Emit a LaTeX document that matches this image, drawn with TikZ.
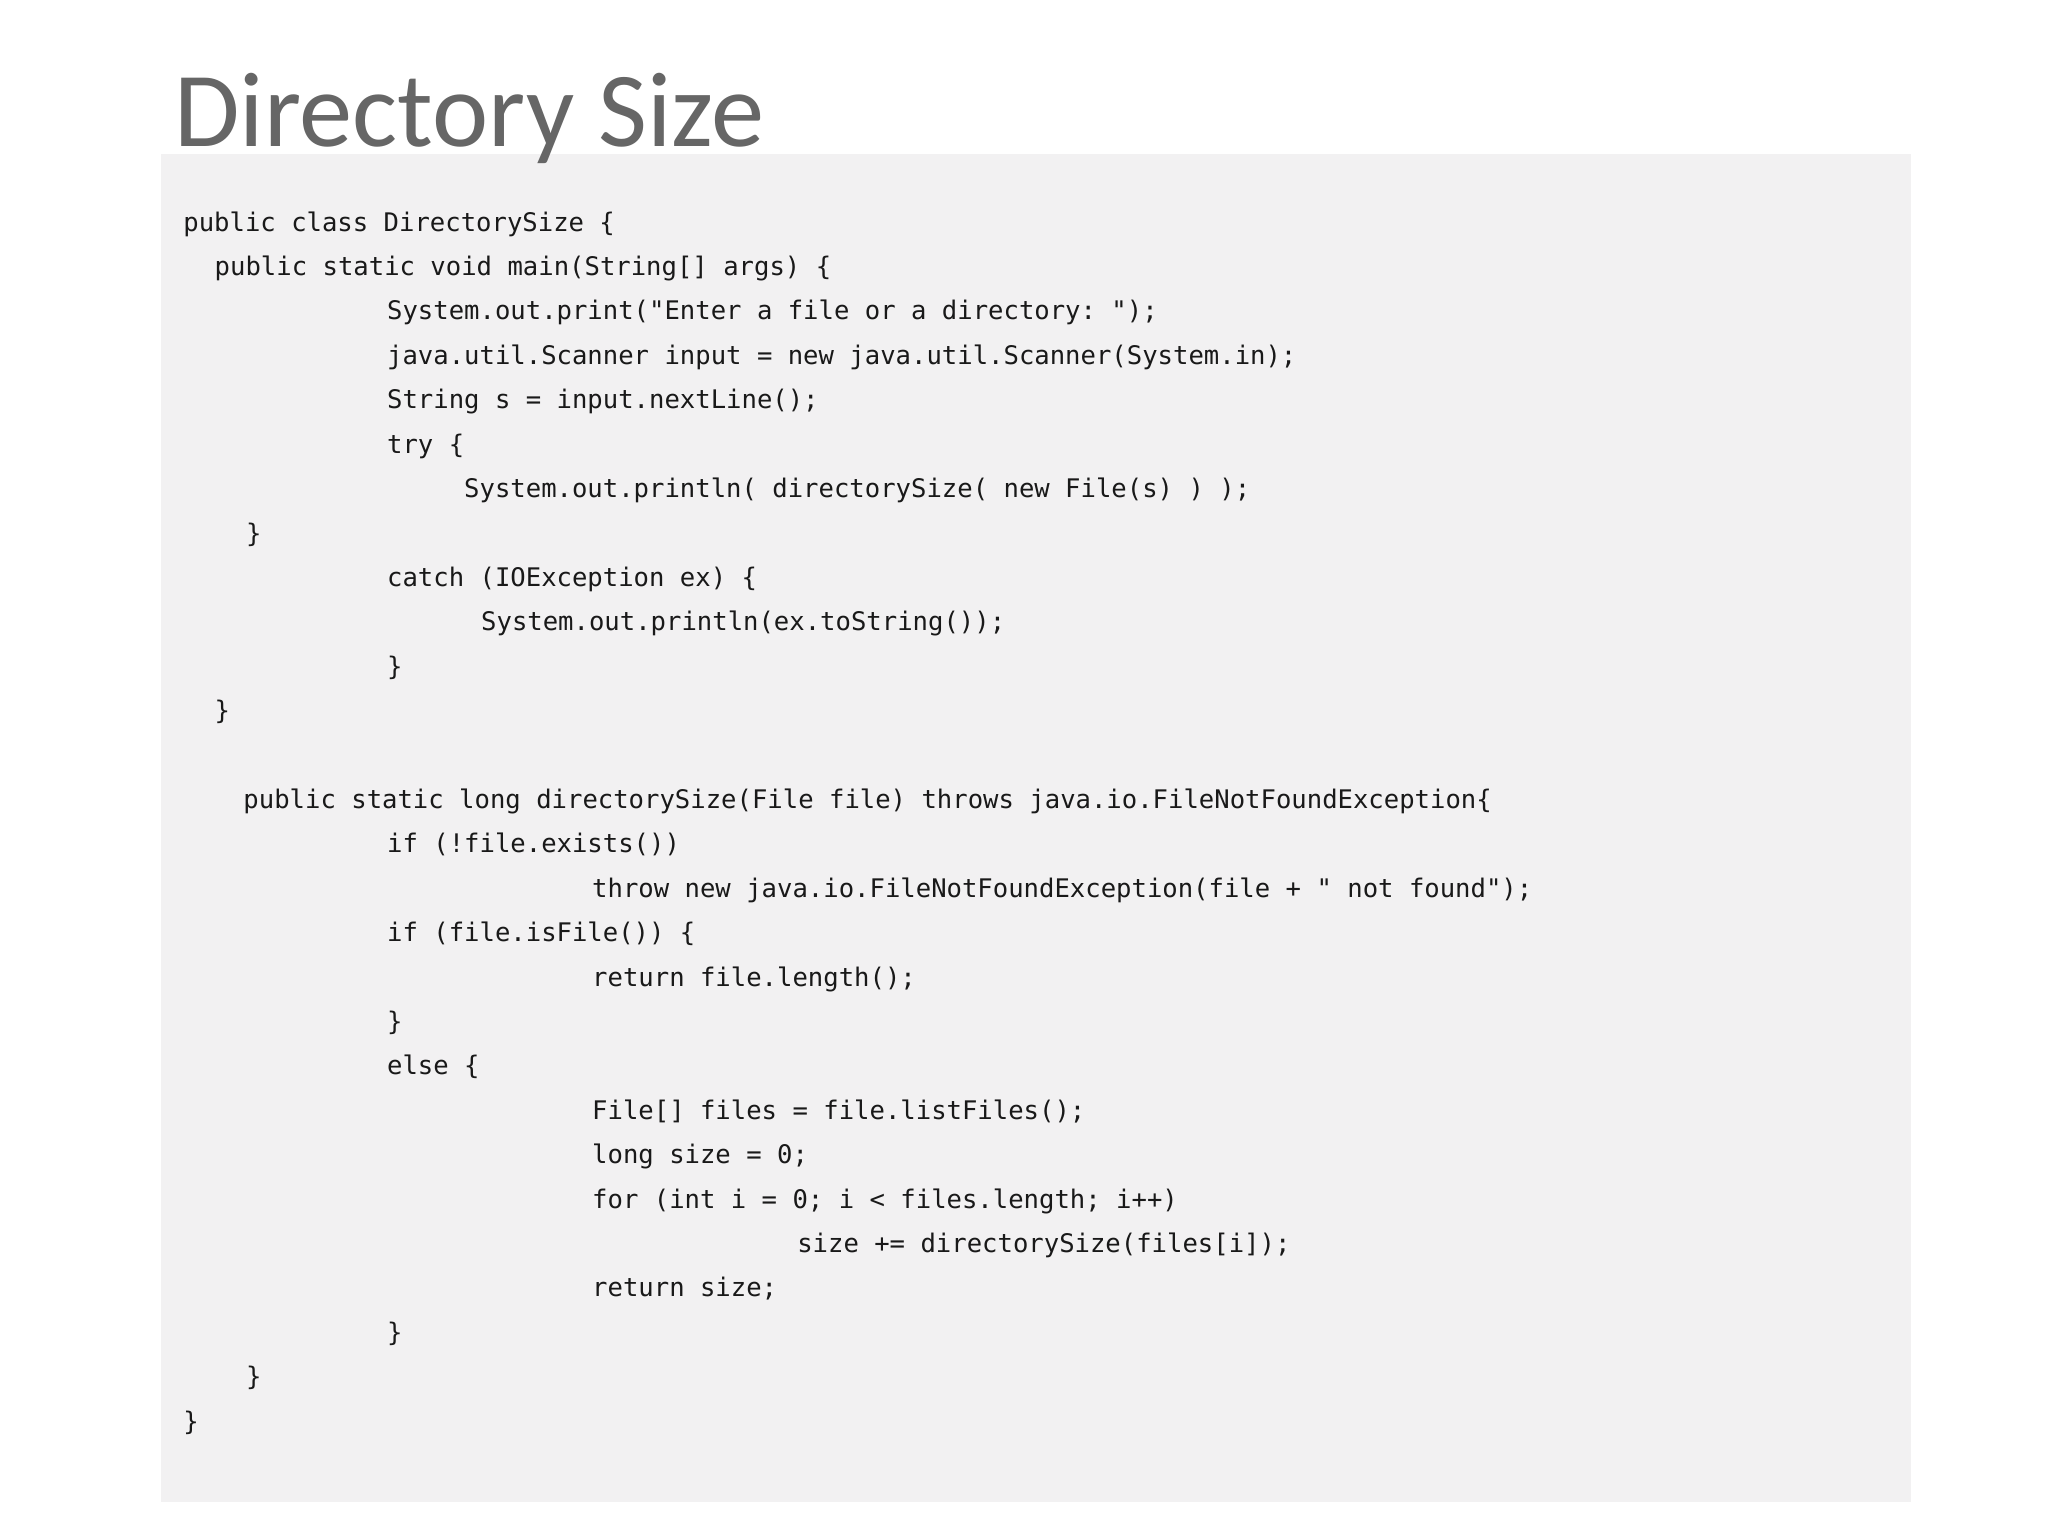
\documentclass[tikz,border=0pt]{standalone}
\usepackage{fontspec}
\setmainfont{Carlito}
\setmonofont{DejaVu Sans Mono}
\definecolor{boxgray}{HTML}{F2F1F2}
\definecolor{titlegray}{HTML}{666666}
\tikzset{code/.style={anchor=base west,inner sep=0pt,font=\ttfamily\fontsize{9.8}{12}\selectfont,text=black!90}}
\begin{document}
\begin{tikzpicture}[x=0.5pt,y=-0.5pt]
\useasboundingbox[fill=white] (0,0) rectangle (1568,1176);
\fill[boxgray] (123,118) rectangle (1463,1150);
\node[anchor=base west,inner sep=0pt,text=titlegray] (title) at (133,112) {\resizebox{226pt}{!}{\fontsize{40}{44}\selectfont Directory Size}};
\def\L#1#2#3{\node[code] (l#1) at (#2,{177+34*#1}) {#3};}
\L{0}{140}{public class DirectorySize \{}
\L{1}{164}{public static void main(String[] args) \{}
\L{2}{296}{System.out.print("Enter a file or a directory: ");}
\L{3}{296}{java.util.Scanner input = new java.util.Scanner(System.in);}
\L{4}{296}{String s = input.nextLine();}
\L{5}{296}{try \{}
\L{6}{355}{System.out.println( directorySize( new File(s) ) );}
\L{7}{188}{\}}
\L{8}{296}{catch (IOException ex) \{}
\L{9}{368}{System.out.println(ex.toString());}
\L{10}{296}{\}}
\L{11}{164}{\}}
\L{13}{186}{public static long directorySize(File file) throws java.io.FileNotFoundException\{}
\L{14}{296}{if (!file.exists())}
\L{15}{453}{throw new java.io.FileNotFoundException(file + " not found");}
\L{16}{296}{if (file.isFile()) \{}
\L{17}{453}{return file.length();}
\L{18}{296}{\}}
\L{19}{296}{else \{}
\L{20}{453}{File[] files = file.listFiles();}
\L{21}{453}{long size = 0;}
\L{22}{453}{for (int i = 0; i < files.length; i++)}
\L{23}{610}{size += directorySize(files[i]);}
\L{24}{453}{return size;}
\L{25}{296}{\}}
\L{26}{188}{\}}
\L{27}{140}{\}}
\end{tikzpicture}
\end{document}
